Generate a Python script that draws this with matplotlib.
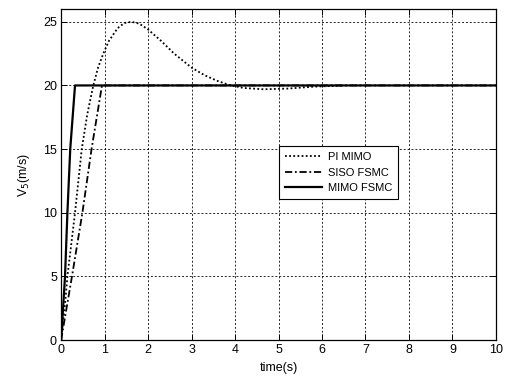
import numpy as np
import matplotlib.pyplot as plt

plt.rcParams['font.family'] = ['Liberation Sans', 'DejaVu Sans']

# PI MIMO response
t_pi = [0, 0.1, 0.145, 0.32, 0.475, 0.6, 0.74, 0.85, 0.97, 1.1, 1.3, 1.45, 1.62,
        1.8, 2.0, 2.3, 2.6, 3.0, 3.3, 3.6, 3.9, 4.2, 4.65, 5.2, 5.8, 6.5]
v_pi = [0, 3.2, 5, 10, 15, 17.7, 20, 21.4, 22.5, 23.5, 24.5, 24.9, 25,
        24.85, 24.4, 23.5, 22.5, 21.4, 20.8, 20.35, 20.0, 19.8, 19.7, 19.75, 19.9, 20.0]

# SISO FSMC
t_siso = [0, 0.25, 0.49, 0.7, 0.94, 10]
v_siso = [0, 5, 10, 15, 20, 20]

# MIMO FSMC
t_mimo = [0, 0.09, 0.145, 0.21, 0.32, 10]
v_mimo = [0, 5, 10, 15, 20, 20]

fig = plt.figure(figsize=(5.05, 3.78), dpi=100)
ax = fig.add_axes([0.121, 0.1005, 0.861, 0.8755])

ax.plot(t_pi, v_pi, color='black', lw=1.3, linestyle=(0, (1, 1.3)), label='PI MIMO')
ax.plot(t_siso, v_siso, color='black', lw=1.3, linestyle=(0, (4, 1.5, 1, 1.5)), label='SISO FSMC')
ax.plot(t_mimo, v_mimo, color='black', lw=1.6, label='MIMO FSMC')

ax.set_xlim(0, 10)
ax.set_ylim(0, 26)
ax.set_xticks(np.arange(0, 11, 1))
ax.set_yticks([0, 5, 10, 15, 20, 25])
ax.grid(True, color='black', lw=0.7, linestyle=(0, (2, 2)), alpha=0.85)
ax.tick_params(direction='in', top=True, right=True, labelsize=9, length=4, width=0.7, pad=3)
for s in ax.spines.values():
    s.set_linewidth(0.9)

ax.set_xlabel('time(s)', fontsize=9, labelpad=4)
ax.set_ylabel('V$_5$(m/s)', fontsize=9, labelpad=8)

leg = ax.legend(loc='lower left', bbox_to_anchor=(0.5, 0.425), fontsize=8,
                fancybox=False, framealpha=1, edgecolor='black',
                handlelength=3.4, handletextpad=0.5, borderpad=0.55, labelspacing=0.5,
                borderaxespad=0)
leg.get_frame().set_linewidth(0.8)

fig.savefig('out.png', dpi=100)
